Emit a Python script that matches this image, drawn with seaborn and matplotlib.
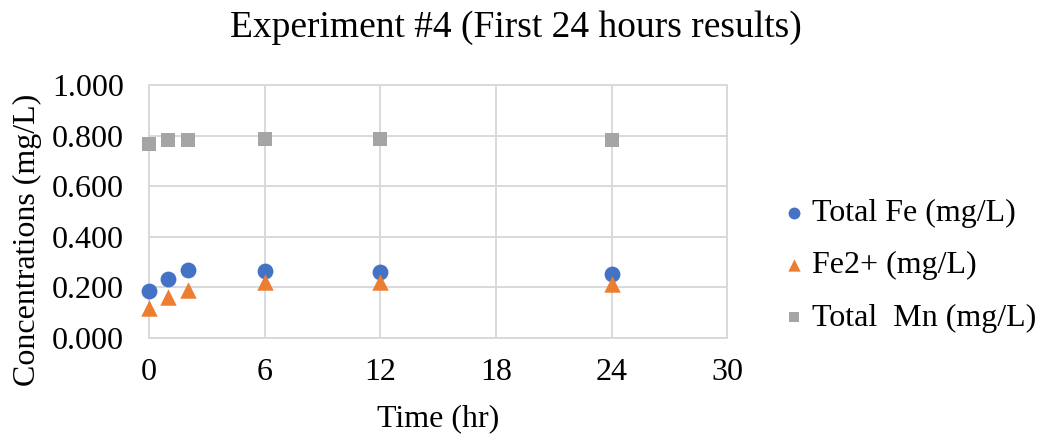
import matplotlib
matplotlib.use("Agg")
import matplotlib.pyplot as plt
import seaborn as sns
import pandas as pd

# Sampling times (hr)
time_hr = [0, 1, 2, 6, 12, 24]

# Measured concentrations (mg/L)
total_fe = [0.187, 0.233, 0.269, 0.264, 0.260, 0.254]
fe2_plus = [0.118, 0.163, 0.190, 0.220, 0.220, 0.213]
total_mn = [0.767, 0.783, 0.783, 0.787, 0.787, 0.781]

series_names = ["Total Fe (mg/L)", "Fe2+ (mg/L)", "Total  Mn (mg/L)"]
series_colors = ["#4472C4", "#ED7D31", "#A5A5A5"]
series_markers = ["o", "^", "s"]

x_ticks = [0, 6, 12, 18, 24, 30]
y_ticks = [0.0, 0.2, 0.4, 0.6, 0.8, 1.0]

df = pd.DataFrame({
    "Time (hr)": time_hr * 3,
    "Concentration": total_fe + fe2_plus + total_mn,
    "Series": [series_names[0]] * len(time_hr)
              + [series_names[1]] * len(time_hr)
              + [series_names[2]] * len(time_hr),
})

sns.set_theme(style="white")
plt.rcParams["font.family"] = ["Liberation Serif", "DejaVu Serif"]
plt.rcParams["text.color"] = "black"
plt.rcParams["axes.labelcolor"] = "black"

fig = plt.figure(figsize=(10.42, 4.34), dpi=100)
ax = fig.add_axes([0.143, 0.221, 0.555, 0.583])

sizes = {series_names[0]: 130, series_names[1]: 140, series_names[2]: 105}
for name, color, marker in zip(series_names, series_colors, series_markers):
    sub = df[df["Series"] == name]
    sns.scatterplot(data=sub, x="Time (hr)", y="Concentration", ax=ax,
                    color=color, marker=marker, s=sizes[name],
                    linewidth=0, label=name, zorder=3, clip_on=False)

ax.set_xlim(0, 30)
ax.set_ylim(0, 1.0)
ax.set_xticks(x_ticks)
ax.set_yticks(y_ticks)
ax.set_yticklabels([f"{v:.3f}" for v in y_ticks])
ax.grid(True, color="#D9D9D9", linewidth=1.4)
ax.set_axisbelow(True)
for sp in ax.spines.values():
    sp.set_color("#D9D9D9")
    sp.set_linewidth(1.4)
ax.tick_params(axis="both", length=0, colors="black", labelsize=23)
ax.tick_params(axis="y", pad=18)
ax.tick_params(axis="x", pad=14)

ax.set_xlabel("Time (hr)", fontsize=23)
ax.xaxis.set_label_coords(0.5, -0.262)
ax.set_ylabel("Concentrations (mg/L)", fontsize=23)
ax.yaxis.set_label_coords(-0.185, 0.387)
fig.suptitle("Experiment #4 (First 24 hours results)", fontsize=27,
             x=0.495, y=0.975)

leg = ax.legend(loc="center left", bbox_to_anchor=(0.739, 0.388),
                bbox_transform=fig.transFigure, frameon=False,
                fontsize=23, handlelength=0.5, handletextpad=0.3,
                labelspacing=0.72, markerscale=0.75, borderpad=0)

fig.savefig("out.png", dpi=100)
